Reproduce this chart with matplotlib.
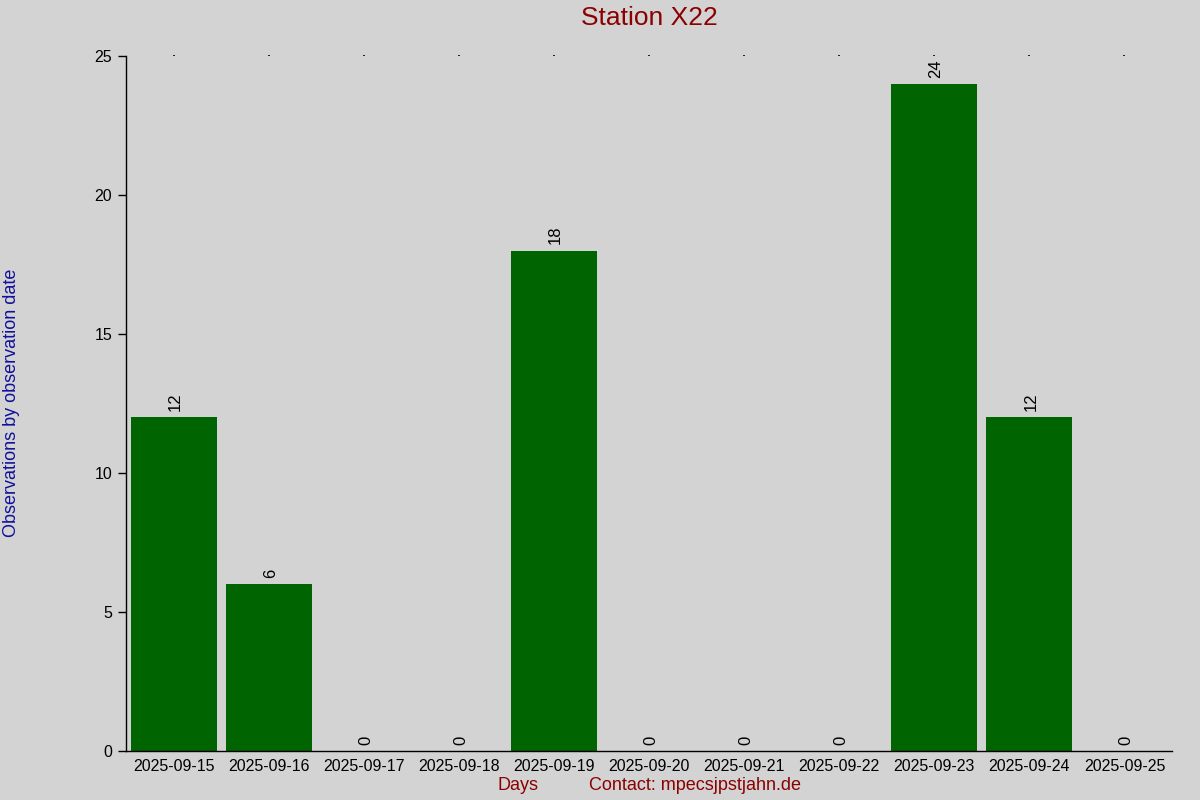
import matplotlib
matplotlib.use("Agg")
import matplotlib.pyplot as plt

days = ["2025-09-15", "2025-09-16", "2025-09-17", "2025-09-18", "2025-09-19",
        "2025-09-20", "2025-09-21", "2025-09-22", "2025-09-23", "2025-09-24", "2025-09-25"]
counts = [12, 6, 0, 0, 18, 0, 0, 0, 24, 12, 0]
yticks = [0, 5, 10, 15, 20, 25]

plt.rcParams['font.family'] = ['Liberation Sans', 'DejaVu Sans']
bg = "#d3d3d3"
fig = plt.figure(figsize=(12, 8), dpi=100, facecolor=bg)
ax = fig.add_axes([126/1200, 1-751/800, (1172-126)/1200, (751-56)/800])
ax.set_facecolor(bg)

x = list(range(len(days)))
ax.bar(x, counts, width=0.905, color="#006400")
for xi, v in zip(x, counts):
    ax.annotate(str(v), (xi, v), xytext=(1.2, 4.5), textcoords="offset points",
                rotation=90, ha="center", va="bottom", fontsize=12, color="black")

ax.set_xlim(-0.5, 10.5)
ax.set_ylim(0, 25)
ax.set_yticks(yticks)
ax.set_xticks(x)
ax.set_xticklabels(days, fontsize=11.5)
ax.tick_params(axis='y', labelsize=11.5, length=6, width=1, direction='out', pad=4)
ax.tick_params(axis='x', bottom=False, top=True, length=1, width=1.2, pad=5)
for s in ["top", "right"]:
    ax.spines[s].set_visible(False)
ax.spines["left"].set_linewidth(1)
ax.spines["bottom"].set_linewidth(1)

fig.text(649/1200, 1-18/800, "Station X22", ha="center", va="center",
         fontsize=19, color="#8b0000")
fig.text(12/1200, 1-403/800, "Observations by observation date", rotation=90,
         ha="center", va="center", fontsize=13, color="#10109a")
fig.text(518/1200, 1-786/800, "Days", ha="center", va="center", fontsize=13, color="#8b0000")
fig.text(695/1200, 1-786/800, "Contact: mpecsjpstjahn.de", ha="center", va="center",
         fontsize=13, color="#8b0000")

fig.savefig("out.png", dpi=100, facecolor=bg)
